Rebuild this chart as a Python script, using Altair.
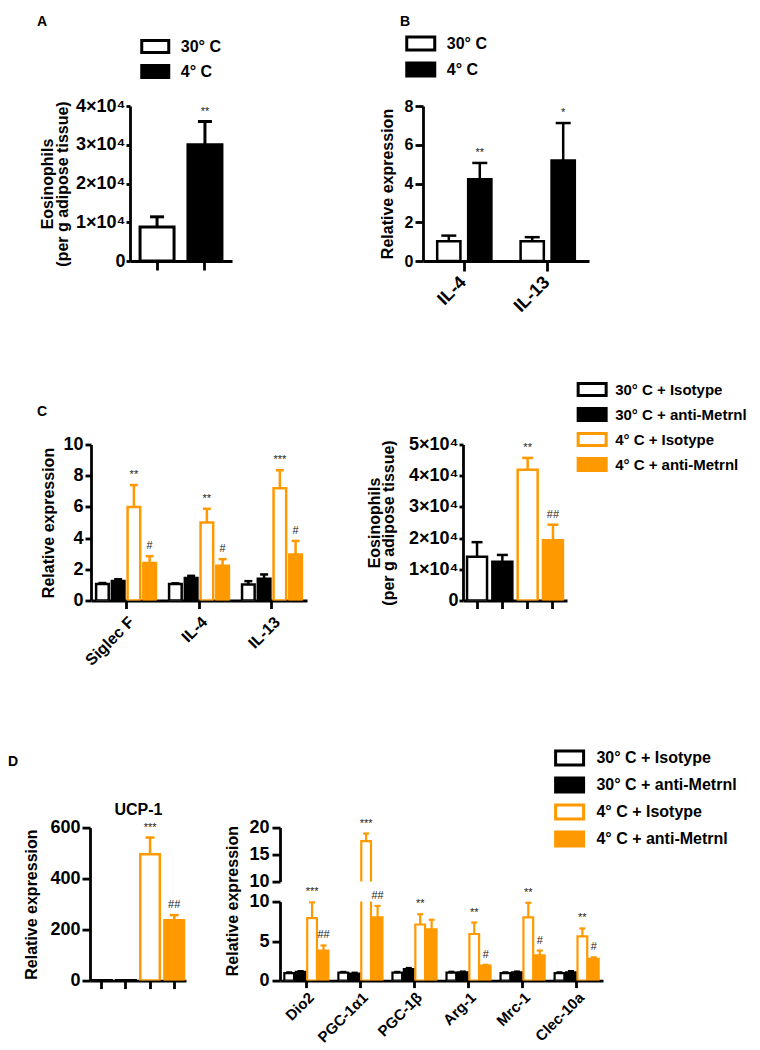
import altair as alt
import pandas as pd

FONT = "Liberation Sans"
ORANGE = "#FF9900"
INK = "#000000"
PAPER = "#FFFFFF"

# ---------------- data ----------------
A_groups = ["30° C", "4° C"]
A_mean = [8800, 30000]
A_err = [11400, 36000]
A_sig = ["", "**"]

B_genes = ["IL-4", "IL-13"]
B_warm_mean = [1.02, 1.02]
B_warm_err = [1.31, 1.23]
B_cold_mean = [4.22, 5.19]
B_cold_err = [5.06, 7.12]
B_warm_sig = ["", ""]
B_cold_sig = ["**", "*"]

TRT = ["30° C + Isotype", "30° C + anti-Metrnl", "4° C + Isotype", "4° C + anti-Metrnl"]

C_genes = ["Siglec F", "IL-4", "IL-13"]
C_iso30_mean = [1.05, 1.05, 1.03]
C_iso30_err = [1.12, 1.10, 1.24]
C_anti30_mean = [1.25, 1.45, 1.40]
C_anti30_err = [1.36, 1.58, 1.67]
C_iso4_mean = [6.0, 5.0, 7.2]
C_iso4_err = [7.4, 5.88, 8.35]
C_anti4_mean = [2.4, 2.22, 2.95]
C_anti4_err = [2.84, 2.65, 3.82]
C_none_sig = ["", "", ""]
C_iso4_sig = ["**", "**", "***"]
C_anti4_sig = ["#", "#", "#"]

C_eos_mean = [14000, 12400, 41900, 19300]
C_eos_err = [18700, 14600, 45700, 24300]
C_eos_sig = ["", "", "**", "##"]

D_ucp_mean = [1, 1, 495, 237]
D_ucp_err = [1.2, 1.2, 561, 257]
D_ucp_sig = ["", "", "***", "##"]

D_genes = ["Dio2", "PGC-1α1", "PGC-1β", "Arg-1", "Mrc-1", "Clec-10a"]
D_iso30_mean = [0.95, 1.0, 1.0, 1.0, 0.95, 0.95]
D_iso30_err = [1.05, 1.1, 1.1, 1.12, 1.05, 1.05]
D_anti30_mean = [1.1, 0.9, 1.45, 1.05, 1.05, 1.05]
D_anti30_err = [1.2, 1.0, 1.6, 1.15, 1.15, 1.2]
D_iso4_mean = [7.9, 17.5, 7.1, 5.9, 8.0, 5.6]
D_iso4_err = [9.9, 18.9, 8.4, 7.35, 9.85, 6.6]
D_anti4_mean = [3.8, 8.0, 6.5, 1.9, 3.2, 2.75]
D_anti4_err = [4.45, 9.45, 7.7, 2.0, 3.8, 2.95]
D_none_sig = ["", "", "", "", "", ""]
D_iso4_sig = ["***", "***", "**", "**", "**", "**"]
D_anti4_sig = ["##", "##", "", "#", "#", "#"]

FILL2 = [PAPER, INK]
EDGE2 = [INK, INK]
FILL4 = [PAPER, INK, PAPER, ORANGE]
EDGE4 = [INK, INK, ORANGE, ORANGE]

SCI = "datum.value == 0 ? '0' : format(datum.value / 10000, 'd') + '×10⁴'"


def table(cats, groups, means, errs, sigs):
    rows = []
    for g, m, e, s in zip(groups, means, errs, sigs):
        for c, mv, ev, sv in zip(cats, m, e, s):
            rows.append({"cat": c, "grp": g, "mean": mv, "err": ev, "sig": sv})
    return pd.DataFrame(rows)


def single(groups, means, errs, sigs):
    return pd.DataFrame({"cat": groups, "grp": groups, "mean": means,
                         "err": errs, "sig": sigs})


def legend(x, y, nominal, box_w, box_h, fs, laboff):
    s = nominal / 2.0
    hw, hh = box_w / 2.0 / s, box_h / 2.0 / s
    path = f"M{-hw:.3f},{-hh:.3f}L{hw:.3f},{-hh:.3f}L{hw:.3f},{hh:.3f}L{-hw:.3f},{hh:.3f}Z"
    return alt.Legend(orient="none", legendX=x, legendY=y, title=None,
                      symbolType=path, symbolSize=nominal * nominal, symbolStrokeWidth=3,
                      symbolOpacity=1, labelFont=FONT, labelFontSize=fs,
                      labelFontWeight="bold", labelColor=INK,
                      rowPadding=0, labelOffset=laboff, padding=0)


def letter(text, dx, offset, anchor="start", fs=14):
    return alt.TitleParams(text=text, anchor=anchor, frame="group", dx=dx,
                           offset=offset, fontSize=fs, fontWeight="bold",
                           font=FONT, color=INK)


def panel(df, cats, groups, fills, edges, w, h, ydom, yvals, ytitle, pin, pout,
          off_pin=None, sw=2.5, cap=8, xlabels=True, xaxis=True, yexpr=None,
          leg=None, title=None, ypad=6, ytitle_y=None, top_title=None,
          bar_filter=None, err_filter=None, lfs=18, ytick=5, ylpad=1, xlfs=15,
          xtick=8, tlh=14, xlpad=2, xloff=0):
    xsc = alt.Scale(domain=cats, paddingInner=pin, paddingOuter=pout)
    if xaxis:
        xa_kw = dict(title=None, labels=xlabels, labelAngle=-45, labelFontSize=xlfs,
                     tickSize=xtick, tickWidth=2.8, domainWidth=2.8, labelPadding=xlpad)
        if xloff:
            xa_kw["labelOffset"] = xloff
        x = alt.X("cat:N", sort=cats, scale=xsc, axis=alt.Axis(**xa_kw))
    else:
        x = alt.X("cat:N", sort=cats, scale=xsc, axis=None)
    x_other = alt.X("cat:N", sort=cats, scale=xsc, axis=None) if top_title else x

    ya_kw = dict(title=ytitle, values=yvals, tickSize=ytick, tickWidth=2.8,
                 domainWidth=2.8, labelFontSize=lfs, labelPadding=ylpad,
                 titleFontSize=16, titlePadding=ypad, titleLineHeight=tlh, grid=False)
    if yexpr:
        ya_kw["labelExpr"] = yexpr
    if ytitle_y is not None:
        ya_kw["titleY"] = ytitle_y
    ysc = alt.Scale(domain=ydom, nice=False)

    def Y(field):
        return alt.Y(field, scale=ysc, axis=alt.Axis(**ya_kw))

    off = {}
    if off_pin is not None:
        off["xOffset"] = alt.XOffset("grp:N", sort=groups,
                                     scale=alt.Scale(domain=groups, paddingInner=off_pin,
                                                     paddingOuter=0))
    fill = alt.Fill("grp:N", scale=alt.Scale(domain=groups, range=fills), legend=leg)
    stroke = alt.Stroke("grp:N", scale=alt.Scale(domain=groups, range=edges), legend=leg)
    color = alt.Color("grp:N", scale=alt.Scale(domain=groups, range=edges), legend=None)

    base = alt.Chart(df)
    bars = base.mark_bar(strokeWidth=sw, clip=True, opacity=1).encode(
        x=x, y=Y("mean:Q"), fill=fill, stroke=stroke, **off)
    rule = base.mark_rule(strokeWidth=sw).encode(
        x=x_other, y=Y("mean:Q"), y2="err:Q", color=color, **off)
    capm = base.mark_tick(thickness=sw, size=cap, orient="horizontal", opacity=1).encode(
        x=x_other, y=Y("err:Q"), color=color, **off)
    if top_title:
        xt = alt.X("cat:N", sort=cats, scale=xsc,
                   axis=alt.Axis(orient="top", title=top_title, labels=False, ticks=False,
                                 domain=False, titleFontSize=16, titlePadding=10))
    else:
        xt = x
    txt = base.mark_text(dy=-10, fontSize=11, font=FONT, color="#222222").encode(
        x=xt, y=Y("err:Q"), text="sig:N", **off)
    if bar_filter:
        bars = bars.transform_filter(bar_filter)
    if err_filter:
        rule = rule.transform_filter(err_filter)
        capm = capm.transform_filter(err_filter)
        txt = txt.transform_filter(err_filter)
    lay = alt.layer(bars, rule, capm, txt)
    if top_title:
        lay = lay.resolve_axis(x="independent")
    props = dict(width=w, height=h)
    if title is not None:
        props["title"] = title
    return lay.properties(**props)


_spacer_df = pd.DataFrame({"v": [0]})


def sp(w, h=10):
    return alt.Chart(_spacer_df).mark_point(opacity=0).encode(
        x=alt.X("v:Q", axis=None), y=alt.Y("v:Q", axis=None)).properties(width=w, height=h)


RES = dict(fill="independent", stroke="independent", color="independent",
           xOffset="independent")


def row(*charts):
    return alt.hconcat(*charts, spacing=0, bounds="flush").resolve_scale(**RES)


# ---------------- panels ----------------
dfA = single(A_groups, A_mean, A_err, A_sig)
chartA = panel(dfA, A_groups, A_groups, FILL2, EDGE2, 102, 155, [0, 40000],
               [0, 10000, 20000, 30000, 40000],
               ["Eosinophils", "(per g adipose tissue)"], 0.29, 0.21,
               sw=3, cap=14, xlabels=False, yexpr=SCI, lfs=18, ytick=4, ylpad=1,
               ypad=5.5, tlh=15, xtick=9,
               leg=legend(13.75, -71, 19.5, 27, 12, 16, 14),
               title=letter("A", -93, 5.7))

dfB = table(B_genes, A_groups, [B_warm_mean, B_cold_mean], [B_warm_err, B_cold_err],
            [B_warm_sig, B_cold_sig])
chartB = panel(dfB, B_genes, A_groups, FILL2, EDGE2, 166, 155, [0, 8], [0, 2, 4, 6, 8],
               "Relative expression", 0.35, 0.17, off_pin=0.25, sw=2.5, cap=15,
               lfs=16, ytick=8, ylpad=2, ypad=9, xlfs=18, xtick=10, xloff=-7,
               leg=legend(-14.25, -74.5, 20.5, 28, 13, 16, 14),
               title=letter("B", -23, 2.2))

dfC = table(C_genes, TRT,
            [C_iso30_mean, C_anti30_mean, C_iso4_mean, C_anti4_mean],
            [C_iso30_err, C_anti30_err, C_iso4_err, C_anti4_err],
            [C_none_sig, C_none_sig, C_iso4_sig, C_anti4_sig])
chartC1 = panel(dfC, C_genes, TRT, FILL4, EDGE4, 216, 156, [0, 10], [0, 2, 4, 6, 8, 10],
                "Relative expression", 0.18, 0.07, off_pin=0.2, sw=2.5, cap=8,
                lfs=18, ytick=6, ylpad=2, ypad=6, xlfs=16, xtick=8, xlpad=5,
                title=letter("C", -54, 17))

dfCE = single(TRT, C_eos_mean, C_eos_err, C_eos_sig)
chartC2 = panel(dfCE, TRT, TRT, FILL4, EDGE4, 104, 156, [0, 50000],
                [0, 10000, 20000, 30000, 40000, 50000],
                ["Eosinophils", "(per g adipose tissue)"], 0.21, 0.16,
                sw=2.5, cap=11, xlabels=False, yexpr=SCI, lfs=18, ytick=4, ylpad=1,
                ypad=12, tlh=14, xtick=8,
                leg=legend(116.65, -67.5, 21.5, 28, 12, 15, 10.5))

dfU = single(TRT, D_ucp_mean, D_ucp_err, D_ucp_sig)
chartD1 = panel(dfU, TRT, TRT, FILL4, EDGE4, 96, 153, [0, 600], [0, 200, 400, 600],
                "Relative expression", 0.19, 0.085, sw=2.5, cap=9, xlabels=False,
                lfs=18, ytick=8, ylpad=2, ypad=10, xtick=8,
                top_title="UCP-1", title=letter("D", -82, 33))

dfD = table(D_genes, TRT,
            [D_iso30_mean, D_anti30_mean, D_iso4_mean, D_anti4_mean],
            [D_iso30_err, D_anti30_err, D_iso4_err, D_anti4_err],
            [D_none_sig, D_none_sig, D_iso4_sig, D_anti4_sig])
chartD2top = panel(dfD, D_genes, TRT, FILL4, EDGE4, 323, 54, [10, 20], [10, 15, 20],
                   None, 0.185, 0.08, off_pin=0.15, sw=2.2, cap=6, xaxis=False,
                   lfs=18, ytick=8, ylpad=3,
                   bar_filter="datum.mean > 10", err_filter="datum.err > 10",
                   leg=legend(277.1, -82, 21.8, 28, 14, 16, 14.3))
chartD2low = panel(dfD, D_genes, TRT, FILL4, EDGE4, 323, 79, [0, 10], [0, 5, 10],
                   "Relative expression", 0.185, 0.08, off_pin=0.15, sw=2.2, cap=6,
                   lfs=18, ytick=8, ylpad=3, ypad=8, xlfs=15, xtick=7, xlpad=2,
                   ytitle_y=-1, err_filter="datum.err <= 10")
chartD2 = alt.vconcat(chartD2top, chartD2low, spacing=20, bounds="flush").resolve_scale(**RES)

row1 = row(sp(40), chartA, sp(191), chartB)
row2 = row(sp(1), chartC1, sp(156), chartC2)
row3 = row(chartD1, sp(94), chartD2)

chart = alt.vconcat(
    alt.vconcat(row1, row2, spacing=60.5).resolve_scale(**RES),
    row3, spacing=76.6
).resolve_scale(**RES).properties(
    padding={"left": 0, "top": 7, "right": 0, "bottom": 0}
).configure(font=FONT).configure_view(stroke=None).configure_axis(
    domainColor=INK, tickColor=INK, labelColor=INK, titleColor=INK,
    labelFont=FONT, titleFont=FONT, labelFontWeight="bold", titleFontWeight="bold",
    grid=False
)

chart.save("out.html", embed_options={"renderer": "svg", "actions": False})
